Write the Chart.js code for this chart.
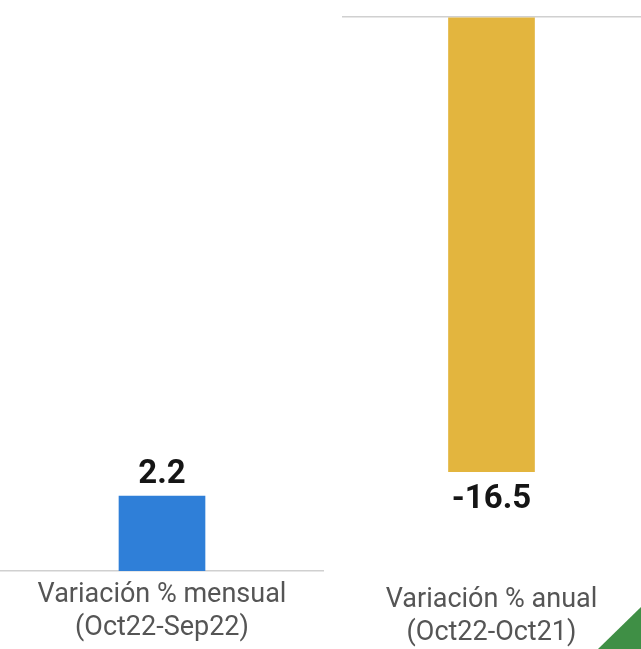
<!DOCTYPE html>
<html>
<head>
<meta charset="utf-8">
<script src="https://cdn.jsdelivr.net/npm/chart.js@4/dist/chart.umd.min.js"></script>
<style>
  html, body { margin: 0; padding: 0; background: #fff; }
  body { width: 641px; height: 649px; position: relative; overflow: hidden; }
  #wrapL { position: absolute; left: 0; top: 0; width: 324px; height: 649px; }
  #wrapR { position: absolute; left: 342px; top: 0; width: 299px; height: 649px; }
  #tri { position: absolute; right: 0; bottom: 0; width: 43px; height: 42px;
         background: #3f8f45; clip-path: polygon(100% 0, 100% 100%, 0 100%); }
</style>
</head>
<body>
<div id="wrapL"><canvas id="cL"></canvas></div>
<div id="wrapR"><canvas id="cR"></canvas></div>
<div id="tri"></div>
<script>
// ---- data ----
const categories = [
  ["Variación % mensual", "(Oct22-Sep22)"],
  ["Variación % anual", "(Oct22-Oct21)"]
];
const values = [2.2, -16.5];
const barColors = ["#2f7fd8", "#e3b53e"];

const labelFont = { family: "Roboto, 'Noto Sans', sans-serif", size: 27, lineHeight: 1.22 };
const valueFont = "bold 33px Roboto, 'Noto Sans', sans-serif";

const valueLabels = {
  id: 'valueLabels',
  afterDatasetsDraw(chart) {
    const ctx = chart.ctx;
    const meta = chart.getDatasetMeta(0);
    const data = chart.data.datasets[0].data;
    ctx.save();
    ctx.font = valueFont;
    ctx.fillStyle = '#151515';
    ctx.textAlign = 'center';
    ctx.textBaseline = 'middle';
    meta.data.forEach((bar, i) => {
      const v = data[i];
      const y = v >= 0 ? bar.y - 21 : bar.y + 28;
      ctx.fillText(v.toFixed(1), bar.x, y);
    });
    ctx.restore();
  }
};

function makeChart(id, idx, yMin, yMax, topPad, labelPad, showXBorder) {
  return new Chart(document.getElementById(id), {
    type: 'bar',
    data: {
      labels: [categories[idx]],
      datasets: [{ data: [values[idx]], backgroundColor: barColors[idx], barThickness: 86 }]
    },
    options: {
      responsive: true,
      maintainAspectRatio: false,
      animation: false,
      layout: { padding: { top: topPad, left: 0, right: 0, bottom: 0 } },
      plugins: { legend: { display: false }, tooltip: { enabled: false } },
      scales: {
        x: {
          grid: { display: false, drawTicks: false },
          border: { display: showXBorder, color: '#d0d0d0', width: 1.5 },
          ticks: { color: '#555', font: labelFont, padding: labelPad, maxRotation: 0 },
          afterFit: (axis) => { axis.height = 649 - 571; }
        },
        y: {
          display: !showXBorder,
          min: yMin, max: yMax,
          ticks: { display: false },
          border: { display: false },
          grid: {
            drawTicks: false,
            color: (c) => (c.tick && c.tick.value === 0) ? '#d0d0d0' : 'rgba(0,0,0,0)',
            lineWidth: 1.5
          },
          afterFit: (axis) => { axis.width = 0; }
        }
      }
    },
    plugins: [valueLabels]
  });
}

makeChart('cL', 0, 0, 16.75, 0, 8, true);
makeChart('cR', 1, -20.1, 0, 17, 13, false);
</script>
</body>
</html>
